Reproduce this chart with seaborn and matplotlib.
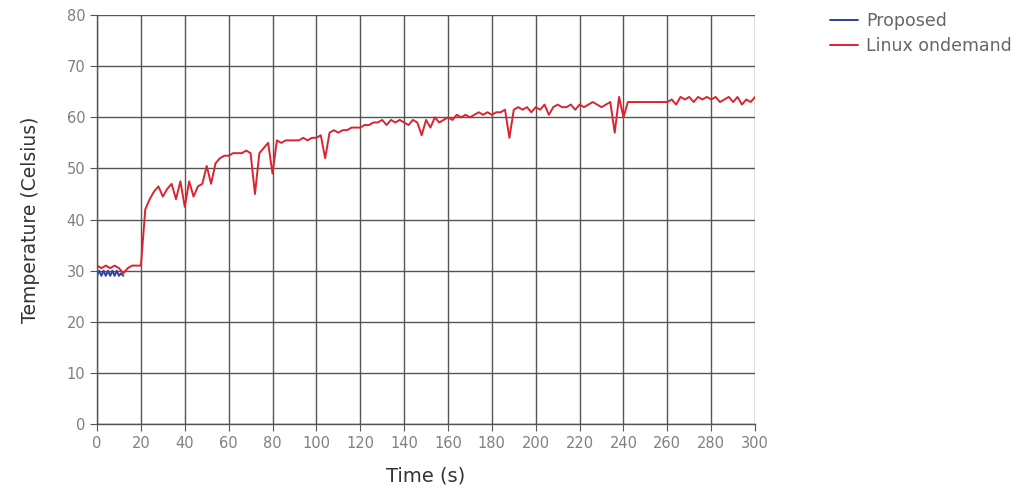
import numpy as np
import pandas as pd
import matplotlib
matplotlib.use("Agg")
import matplotlib.pyplot as plt
import seaborn as sns

# ---- data ----
ondemand_time = np.arange(0, 301, 2)
ondemand_temp = [
    31, 30.5, 31, 30.5, 31, 30.5, 29.5, 30.5, 31, 31,
    31, 42, 44, 45.5, 46.5, 44.5, 46, 47, 44, 47.5,
    42.5, 47.5, 44.5, 46.5, 47, 50.5, 47, 51, 52, 52.5,
    52.5, 53, 53, 53, 53.5, 53, 45, 53, 54, 55,
    49, 55.5, 55, 55.5, 55.5, 55.5, 55.5, 56, 55.5, 56,
    56, 56.5, 52, 57, 57.5, 57, 57.5, 57.5, 58, 58,
    58, 58.5, 58.5, 59, 59, 59.5, 58.5, 59.5, 59, 59.5,
    59, 58.5, 59.5, 59, 56.5, 59.5, 58, 60, 59, 59.5,
    60, 59.5, 60.5, 60, 60.5, 60, 60.5, 61, 60.5, 61,
    60.5, 61, 61, 61.5, 56, 61.5, 62, 61.5, 62, 61,
    62, 61.5, 62.5, 60.5, 62, 62.5, 62, 62, 62.5, 61.5,
    62.5, 62, 62.5, 63, 62.5, 62, 62.5, 63, 57, 64,
    60, 63, 63, 63, 63, 63, 63, 63, 63, 63,
    63, 63.5, 62.5, 64, 63.5, 64, 63, 64, 63.5, 64,
    63.5, 64, 63, 63.5, 64, 63, 64, 62.5, 63.5, 63,
    64,
]
proposed_time = np.arange(0, 13, 1)
proposed_temp = [29, 30, 29, 30, 29, 30, 29, 30, 29, 30, 29, 29.5, 29]

series_names = ["Proposed", "Linux ondemand"]
x_ticks = list(range(0, 301, 20))
y_ticks = list(range(0, 81, 10))

df = pd.concat([
    pd.DataFrame({"Time": proposed_time, "Temp": proposed_temp, "Series": series_names[0]}),
    pd.DataFrame({"Time": ondemand_time, "Temp": ondemand_temp, "Series": series_names[1]}),
], ignore_index=True)

sns.set_theme(style="white")
plt.rcParams['font.family'] = ['DejaVu Sans']

fig = plt.figure(figsize=(10.29, 4.88), dpi=100)
ax = fig.add_axes([0.0943, 0.131, 0.6395, 0.838])

palette = {"Proposed": "#2f3f9e", "Linux ondemand": "#dc2430"}
sns.lineplot(data=df, x="Time", y="Temp", hue="Series", hue_order=series_names,
             palette=palette, linewidth=1.4, ax=ax, estimator=None, sort=False)

ax.set_xlim(0, 300)
ax.set_ylim(0, 80)
ax.set_xticks(x_ticks)
ax.set_yticks(y_ticks)
ax.grid(True, color="#555555", linewidth=1.0)
ax.set_axisbelow(True)
for s in ["top", "right"]:
    ax.spines[s].set_visible(False)
for s in ["left", "bottom"]:
    ax.spines[s].set_color("#555555")
    ax.spines[s].set_linewidth(1.0)
ax.tick_params(axis="both", which="major", direction="out", length=5, width=0.8,
               color="#555555", labelcolor="#808080", labelsize=10.5, bottom=True, left=True)
ax.set_xlabel("Time (s)", fontsize=14, color="#333333", labelpad=11)
ax.set_ylabel("Temperature (Celsius)", fontsize=13.5, color="#333333", labelpad=19)

leg = ax.legend(loc="upper left", bbox_to_anchor=(1.09, 1.045), frameon=False,
                fontsize=12.5, handlelength=1.6, handletextpad=0.5, labelspacing=0.4)
for t in leg.get_texts():
    t.set_color("#666666")

fig.savefig("out.png", dpi=100, facecolor="white")
